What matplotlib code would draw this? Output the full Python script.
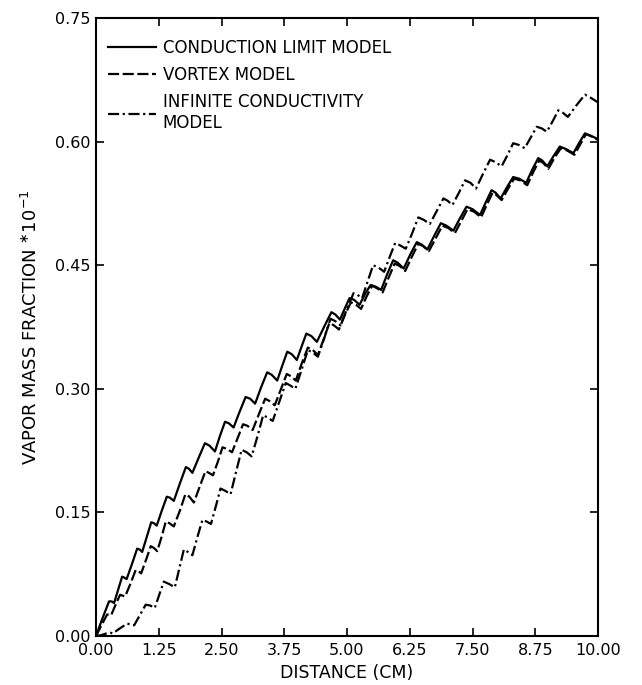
import matplotlib
matplotlib.use('Agg')
import matplotlib.pyplot as plt

# conduction limit model (solid)
cond_x = [0.00, 0.12, 0.26, 0.31, 0.36, 0.44, 0.52, 0.56, 0.61, 0.72, 0.82, 0.87, 0.92, 1.01,
          1.10, 1.15, 1.21, 1.31, 1.41, 1.47, 1.55, 1.67, 1.79, 1.85, 1.92, 2.05, 2.17, 2.26,
          2.37, 2.47, 2.57, 2.65, 2.74, 2.86, 2.98, 3.07, 3.17, 3.29, 3.41, 3.50, 3.61, 3.71,
          3.81, 3.90, 4.00, 4.10, 4.19, 4.29, 4.40, 4.55, 4.69, 4.77, 4.86, 4.96, 5.05, 5.14,
          5.25, 5.36, 5.47, 5.57, 5.68, 5.80, 5.92, 6.01, 6.13, 6.26, 6.39, 6.49, 6.60, 6.74,
          6.87, 6.98, 7.12, 7.25, 7.38, 7.50, 7.65, 7.77, 7.88, 7.96, 8.06, 8.19, 8.31, 8.43,
          8.57, 8.69, 8.81, 8.89, 8.99, 9.12, 9.24, 9.36, 9.51, 9.63, 9.74, 9.86, 10.00]
cond_y = [0.000, 0.020, 0.042, 0.042, 0.040, 0.056, 0.072, 0.071, 0.069, 0.088, 0.106, 0.105, 0.102, 0.120,
          0.138, 0.137, 0.134, 0.152, 0.169, 0.168, 0.164, 0.185, 0.205, 0.203, 0.198, 0.217, 0.234, 0.231,
          0.224, 0.243, 0.260, 0.258, 0.253, 0.272, 0.290, 0.288, 0.282, 0.302, 0.320, 0.317, 0.310, 0.328,
          0.345, 0.342, 0.335, 0.352, 0.367, 0.364, 0.357, 0.376, 0.393, 0.390, 0.384, 0.398, 0.410, 0.408,
          0.402, 0.415, 0.426, 0.424, 0.420, 0.439, 0.456, 0.453, 0.446, 0.463, 0.478, 0.475, 0.469, 0.486,
          0.501, 0.498, 0.492, 0.507, 0.521, 0.518, 0.511, 0.527, 0.541, 0.538, 0.531, 0.545, 0.557, 0.555,
          0.550, 0.566, 0.580, 0.577, 0.570, 0.583, 0.594, 0.591, 0.586, 0.599, 0.610, 0.607, 0.603]

# vortex model (dashed)
vort_x = [0.00, 0.10, 0.22, 0.26, 0.30, 0.39, 0.48, 0.53, 0.58, 0.69, 0.79, 0.84, 0.90, 1.00,
          1.09, 1.15, 1.22, 1.31, 1.39, 1.46, 1.55, 1.67, 1.78, 1.86, 1.95, 2.07, 2.18, 2.25,
          2.33, 2.43, 2.52, 2.61, 2.71, 2.82, 2.93, 3.02, 3.12, 3.25, 3.37, 3.46, 3.56, 3.68,
          3.80, 3.89, 3.98, 4.10, 4.22, 4.32, 4.42, 4.54, 4.65, 4.74, 4.84, 4.96, 5.08, 5.18,
          5.28, 5.39, 5.50, 5.60, 5.71, 5.83, 5.95, 6.05, 6.16, 6.29, 6.42, 6.52, 6.63, 6.77,
          6.90, 7.02, 7.15, 7.28, 7.40, 7.53, 7.67, 7.79, 7.90, 7.98, 8.08, 8.21, 8.33, 8.45,
          8.59, 8.71, 8.83, 8.91, 9.01, 9.14, 9.26, 9.39, 9.53, 9.65, 9.76, 9.88, 10.00]
vort_y = [0.000, 0.012, 0.026, 0.026, 0.025, 0.038, 0.050, 0.049, 0.048, 0.064, 0.080, 0.079, 0.076, 0.093,
          0.109, 0.107, 0.103, 0.121, 0.139, 0.137, 0.133, 0.152, 0.172, 0.169, 0.162, 0.182, 0.200, 0.198,
          0.195, 0.212, 0.229, 0.227, 0.223, 0.240, 0.257, 0.255, 0.250, 0.270, 0.288, 0.285, 0.280, 0.299,
          0.318, 0.315, 0.310, 0.331, 0.350, 0.347, 0.341, 0.361, 0.380, 0.377, 0.372, 0.390, 0.405, 0.402,
          0.397, 0.412, 0.425, 0.422, 0.417, 0.435, 0.452, 0.449, 0.443, 0.460, 0.476, 0.473, 0.467, 0.483,
          0.498, 0.495, 0.489, 0.504, 0.518, 0.515, 0.508, 0.524, 0.538, 0.535, 0.529, 0.543, 0.555, 0.553,
          0.547, 0.563, 0.577, 0.574, 0.567, 0.581, 0.592, 0.589, 0.584, 0.597, 0.609, 0.606, 0.602]

# infinite conductivity model (dash-dot)
inf_x = [0.00, 0.10, 0.25, 0.29, 0.33, 0.47, 0.62, 0.69, 0.76, 0.88, 0.99, 1.08, 1.17, 1.26,
         1.35, 1.46, 1.57, 1.66, 1.75, 1.83, 1.92, 2.02, 2.12, 2.20, 2.29, 2.39, 2.48, 2.58,
         2.68, 2.79, 2.90, 3.00, 3.10, 3.22, 3.33, 3.42, 3.52, 3.65, 3.78, 3.87, 3.97, 4.10,
         4.22, 4.32, 4.42, 4.55, 4.67, 4.77, 4.87, 5.00, 5.13, 5.21, 5.30, 5.41, 5.52, 5.63,
         5.74, 5.85, 5.96, 6.06, 6.17, 6.30, 6.42, 6.53, 6.65, 6.79, 6.92, 7.01, 7.10, 7.23,
         7.35, 7.46, 7.57, 7.71, 7.85, 7.96, 8.08, 8.20, 8.31, 8.42, 8.54, 8.66, 8.78, 8.88,
         8.98, 9.10, 9.21, 9.30, 9.40, 9.57, 9.74, 9.86, 9.99]
inf_y = [0.000, 0.001, 0.004, 0.004, 0.003, 0.009, 0.015, 0.014, 0.013, 0.026, 0.038, 0.037, 0.034, 0.050,
         0.066, 0.063, 0.059, 0.082, 0.105, 0.102, 0.098, 0.120, 0.141, 0.139, 0.136, 0.158, 0.179, 0.176,
         0.172, 0.199, 0.226, 0.223, 0.218, 0.243, 0.268, 0.265, 0.261, 0.284, 0.307, 0.304, 0.300, 0.324,
         0.347, 0.344, 0.339, 0.362, 0.385, 0.382, 0.377, 0.397, 0.416, 0.414, 0.410, 0.430, 0.450, 0.447,
         0.442, 0.460, 0.477, 0.474, 0.470, 0.489, 0.508, 0.505, 0.500, 0.516, 0.531, 0.528, 0.523, 0.538,
         0.553, 0.550, 0.543, 0.561, 0.578, 0.575, 0.570, 0.584, 0.598, 0.596, 0.592, 0.605, 0.618, 0.616,
         0.612, 0.625, 0.638, 0.635, 0.630, 0.644, 0.657, 0.653, 0.648]

x_ticks = [0.00, 1.25, 2.50, 3.75, 5.00, 6.25, 7.50, 8.75, 10.00]
y_ticks = [0.00, 0.15, 0.30, 0.45, 0.60, 0.75]

plt.rcParams['font.family'] = ['DejaVu Sans']
plt.rcParams['mathtext.default'] = 'regular'

fig = plt.figure(figsize=(6.42, 6.85), dpi=100)
ax = fig.add_axes([96 / 642, 49 / 685, 502 / 642, 618 / 685])

ax.plot(cond_x, cond_y, color='black', lw=1.6, label='CONDUCTION LIMIT MODEL')
l2, = ax.plot(vort_x, vort_y, color='black', lw=1.6, label='VORTEX MODEL')
l2.set_dashes([5, 1.6])
l3, = ax.plot(inf_x, inf_y, color='black', lw=1.6, label='INFINITE CONDUCTIVITY\nMODEL')
l3.set_dashes([5, 1.6, 1, 1.6])

ax.set_xlim(0, 10)
ax.set_ylim(0, 0.75)
ax.set_xticks(x_ticks)
ax.set_xticklabels(['%.2f' % v for v in x_ticks])
ax.set_yticks(y_ticks)
ax.set_yticklabels(['%.2f' % v for v in y_ticks])
ax.tick_params(direction='in', length=6, width=1.2, top=True, right=True, labelsize=11.5)
ax.tick_params(axis='x', pad=5)
ax.tick_params(axis='y', pad=4)
for s in ax.spines.values():
    s.set_linewidth(1.5)

ax.set_xlabel('DISTANCE (CM)', fontsize=12.5)
ax.xaxis.set_label_coords(0.5, -0.045)
ax.set_ylabel(r'VAPOR MASS FRACTION $^{\ast}$10$^{-1}$', fontsize=13)
ax.yaxis.set_label_coords(-0.11, 0.5)

ax.legend(loc='upper left', bbox_to_anchor=(0.0, 0.985), frameon=False, fontsize=12,
          handlelength=2.9, handletextpad=0.4, labelspacing=0.55, borderaxespad=0.3)

fig.savefig('out.png', dpi=100)
